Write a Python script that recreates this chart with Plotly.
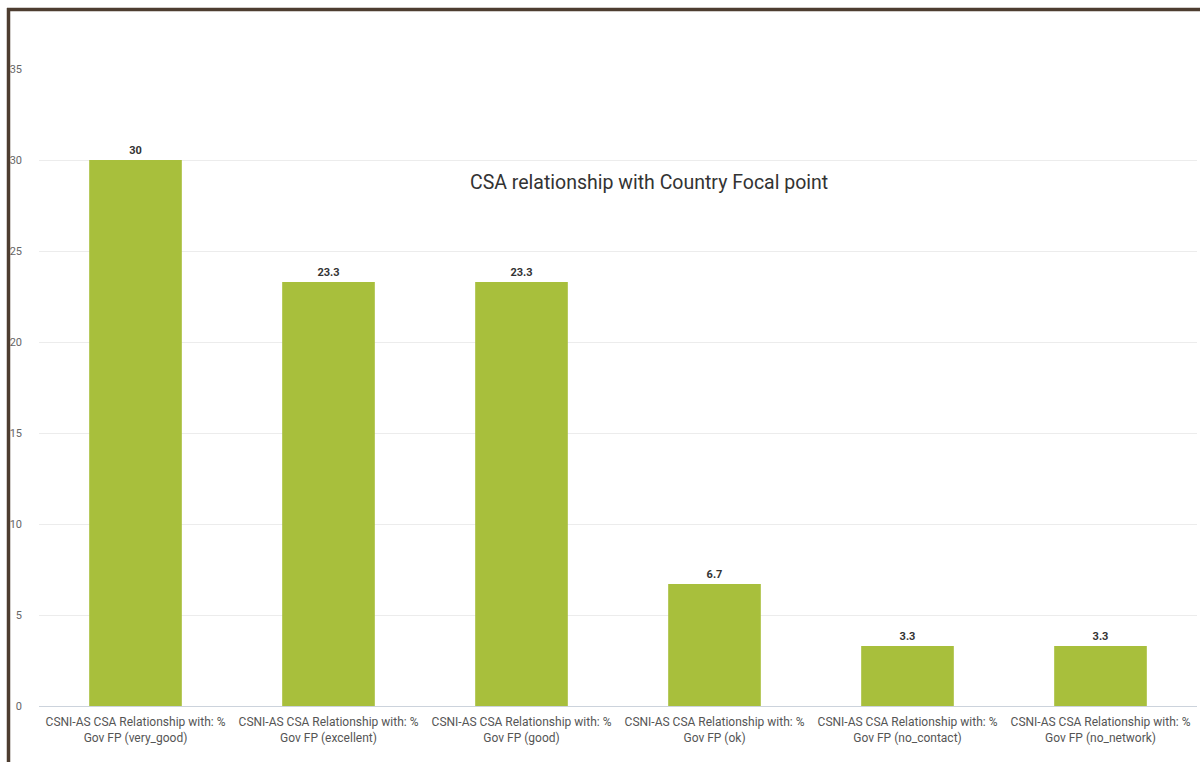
import plotly.graph_objects as go

# Survey categories and their percentages
categories = [
    "CSNI-AS CSA Relationship with: %<br>Gov FP (very_good)",
    "CSNI-AS CSA Relationship with: %<br>Gov FP (excellent)",
    "CSNI-AS CSA Relationship with: %<br>Gov FP (good)",
    "CSNI-AS CSA Relationship with: %<br>Gov FP (ok)",
    "CSNI-AS CSA Relationship with: %<br>Gov FP (no_contact)",
    "CSNI-AS CSA Relationship with: %<br>Gov FP (no_network)",
]
values = [30, 23.3, 23.3, 6.7, 3.3, 3.3]
value_labels = ["30", "23.3", "23.3", "6.7", "3.3", "3.3"]
y_ticks = [0, 5, 10, 15, 20, 25, 30, 35]

W, H = 1200, 762
ml, mr, mt, mb = 39, 3, 69, 56
pw, ph = W - ml - mr, H - mt - mb


def px_x(x):
    return (x - ml) / pw


def px_y(y):
    return (H - mb - y) / ph


fig = go.Figure(
    go.Bar(
        x=categories,
        y=values,
        marker=dict(color="#a8bf3c", line=dict(width=0)),
        text=value_labels,
        textposition="outside",
        textfont=dict(family="Roboto", size=11, color="#333333", weight="bold"),
        cliponaxis=False,
    )
)

border = "#4d3d30"
fig.update_layout(
    width=W,
    height=H,
    margin=dict(l=ml, r=mr, t=mt, b=mb, pad=0),
    paper_bgcolor="white",
    plot_bgcolor="white",
    bargap=0.52,
    showlegend=False,
    font=dict(family="Roboto", color="#666666"),
    annotations=[
        dict(
            text="CSA relationship with Country Focal point",
            xref="paper", yref="paper",
            x=px_x(649), y=px_y(183),
            xanchor="center", yanchor="middle",
            showarrow=False,
            font=dict(family="Roboto", size=19.5, color="#333333"),
        )
    ],
    shapes=[
        dict(type="line", xref="paper", yref="paper",
             x0=px_x(7), x1=px_x(1200), y0=px_y(9.5), y1=px_y(9.5),
             line=dict(color=border, width=3.5)),
        dict(type="line", xref="paper", yref="paper",
             x0=px_x(8.5), x1=px_x(8.5), y0=px_y(8), y1=px_y(762),
             line=dict(color=border, width=3.5)),
    ],
)

fig.update_xaxes(
    showgrid=False,
    showline=False,
    ticks="",
    ticklabelstandoff=7,
    tickfont=dict(family="Roboto", size=12, color="#555555"),
)
fig.update_yaxes(
    range=[0, 35],
    tickvals=y_ticks,
    showgrid=True,
    gridcolor="#ececec",
    gridwidth=1,
    zeroline=True,
    zerolinecolor="#ccd3dc",
    zerolinewidth=1,
    showline=False,
    ticks="",
    ticklabelstandoff=16,
    tickfont=dict(family="Roboto", size=11, color="#666666"),
)

fig.write_html("out.html")
